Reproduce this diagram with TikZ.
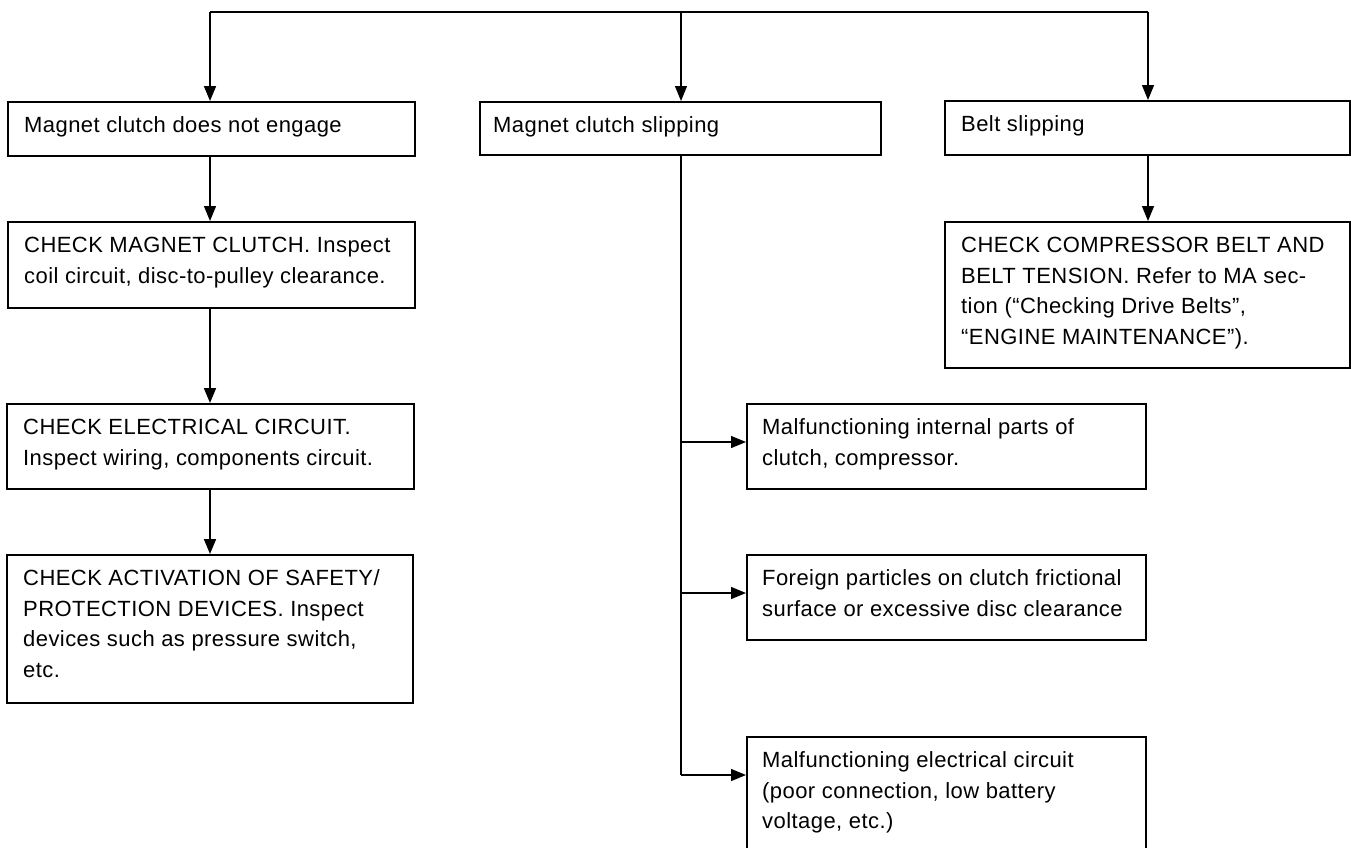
\documentclass[tikz,border=0pt]{standalone}
\usepackage{fontspec}
\setmainfont{Liberation Sans}[LetterSpace=2]
\usetikzlibrary{arrows.meta}
\begin{document}
\begin{tikzpicture}[x=1pt,y=-1pt,
  box/.style={draw, line width=1.5pt, rectangle, inner sep=0pt, anchor=north west},
  txt/.style={anchor=north west, inner sep=0pt, align=left, font=\fontsize{22}{30.5}\selectfont},
  conn/.style={line width=1.2pt},
  arr/.style={line width=1.3pt, -{Triangle[length=15pt,width=12pt]}},
  thickarr/.style={arr, line width=1.7pt}]
\clip (0,0) rectangle (1351,847);
\fill[white] (0,0) rectangle (1351,847);
% top row
\node[box, minimum width=407pt, minimum height=54pt] (b1) at (7,101) {};
\node[box, minimum width=401pt, minimum height=53pt] (b2) at (479,101) {};
\node[box, minimum width=405pt, minimum height=54pt] (b3) at (944,100) {};
% left column
\node[box, minimum width=407pt, minimum height=86pt] (l2) at (7,221) {};
\node[box, minimum width=407pt, minimum height=85pt] (l3) at (6,403) {};
\node[box, minimum width=406pt, minimum height=148pt] (l4) at (6,554) {};
% right column
\node[box, minimum width=405pt, minimum height=146pt] (r2) at (944,221) {};
% middle branch boxes
\node[box, minimum width=399pt, minimum height=85pt] (mA) at (746,403) {};
\node[box, minimum width=399pt, minimum height=85pt] (mB) at (746,554) {};
\node[box, minimum width=399pt, minimum height=118pt] (mC) at (746,736) {};
% texts
\node[txt] (tb1) at ([xshift=17pt,yshift=-11pt]b1.north west) {\rule{0pt}{20.5pt}Magnet clutch does not engage};
\node[txt] (tb2) at ([xshift=14pt,yshift=-11pt]b2.north west) {\rule{0pt}{20.5pt}Magnet clutch slipping};
\node[txt] (tb3) at ([xshift=17pt,yshift=-11pt]b3.north west) {\rule{0pt}{20.5pt}Belt slipping};
\node[txt] (tl2) at ([xshift=17pt,yshift=-11pt]l2.north west) {\rule{0pt}{20.5pt}CHECK MAGNET CLUTCH. Inspect\\coil circuit, disc-to-pulley clearance.};
\node[txt] (tl3) at ([xshift=17pt,yshift=-11pt]l3.north west) {\rule{0pt}{20.5pt}CHECK ELECTRICAL CIRCUIT.\\Inspect wiring, components circuit.};
\node[txt] (tl4) at ([xshift=17pt,yshift=-11pt]l4.north west) {\rule{0pt}{20.5pt}CHECK ACTIVATION OF SAFETY/\\PROTECTION DEVICES. Inspect\\devices such as pressure switch,\\etc.};
\node[txt] (tr2) at ([xshift=17pt,yshift=-11pt]r2.north west) {\rule{0pt}{20.5pt}CHECK COMPRESSOR BELT AND\\BELT TENSION. Refer to MA sec-\\tion (“Checking Drive Belts”,\\“ENGINE MAINTENANCE”).};
\node[txt] (tmA) at ([xshift=16pt,yshift=-11pt]mA.north west) {\rule{0pt}{20.5pt}Malfunctioning internal parts of\\clutch, compressor.};
\node[txt] (tmB) at ([xshift=16pt,yshift=-11pt]mB.north west) {\rule{0pt}{20.5pt}Foreign particles on clutch frictional\\surface or excessive disc clearance};
\node[txt] (tmC) at ([xshift=16pt,yshift=-11pt]mC.north west) {\rule{0pt}{20.5pt}Malfunctioning electrical circuit\\(poor connection, low battery\\voltage, etc.)};
% connectors
\coordinate (tl) at (210,12);
\coordinate (tm) at (681,12);
\coordinate (tr) at (1148,12);
\draw[conn] (tl) -- (tr);
\draw[thickarr] (tl) -- (tl |- b1.north);
\draw[arr] (tm) -- (tm |- b2.north);
\draw[arr] (tr) -- (tr |- b3.north);
\draw[arr] (tl |- b1.south) -- (tl |- l2.north);
\draw[thickarr] (tl |- l2.south) -- (tl |- l3.north);
\draw[thickarr] (tl |- l3.south) -- (tl |- l4.north);
\draw[arr] (tr |- b3.south) -- (tr |- r2.north);
\coordinate (m1) at (681,442);
\coordinate (m2) at (681,593);
\coordinate (m3) at (681,775);
\draw[conn, line width=1.5pt] (m1 |- b2.south) -- (m3);
\draw[arr] (m1) -- (m1 -| mA.west);
\draw[arr] (m2) -- (m2 -| mB.west);
\draw[arr] (m3) -- (m3 -| mC.west);
\end{tikzpicture}
\end{document}
